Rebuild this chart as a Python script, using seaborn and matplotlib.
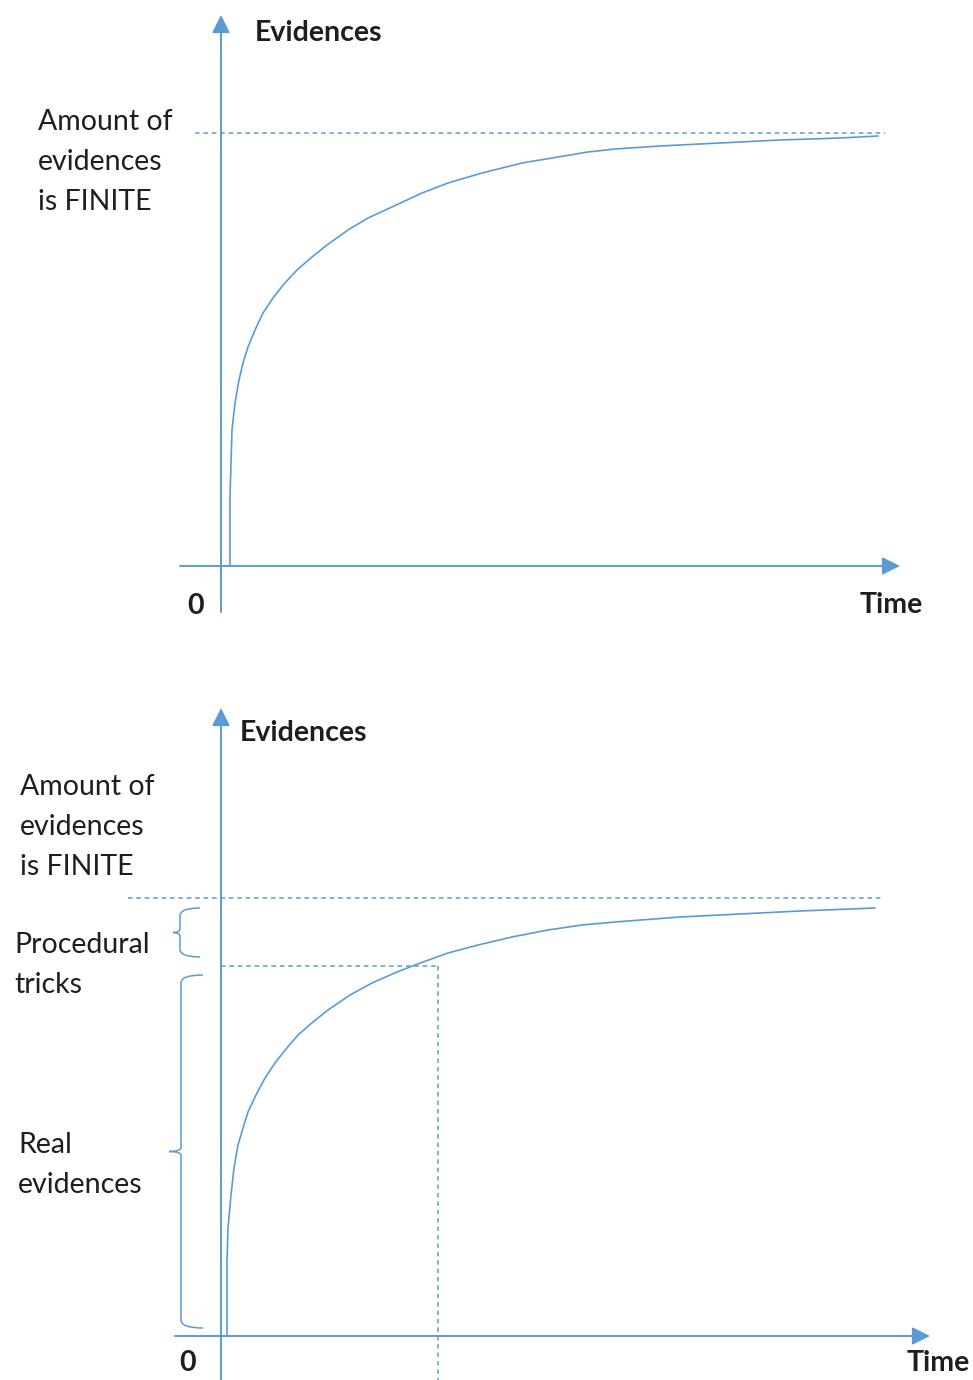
import matplotlib.pyplot as plt
import seaborn as sns
import pandas as pd
from matplotlib.path import Path
from matplotlib.patches import PathPatch

# Style
sns.set_style("white")
plt.rcParams['font.family'] = ['Lato', 'DejaVu Sans']

BLUE = '#5b9bd5'
TEXT = '#1e1e1e'
FS = 20.5

# Data (time / evidences; 1 unit = 1 px)
top_time = [9, 9, 10, 11, 14, 18, 22, 27, 34, 42, 52, 63, 76, 91, 106, 127, 147, 171,
            201, 227, 261, 301, 337, 367, 394, 439, 499, 559, 619, 657]
top_evidence = [1, 69, 103, 136, 163, 186, 203, 219, 236, 253, 268, 282, 296, 309, 321,
                336, 348, 359, 373, 383, 393, 403, 409, 414, 417, 420, 423, 426, 428, 430]
top_limit = 433

bottom_time = [6, 6, 7, 10, 13, 17, 22, 27, 35, 44, 54, 65, 77, 92, 107, 129, 151, 176,
               202, 227, 257, 291, 327, 361, 394, 459, 519, 579, 654]
bottom_evidence = [0, 74, 108, 141, 168, 191, 208, 224, 241, 258, 273, 287, 301, 314, 326,
                   341, 353, 364, 374, 383, 391, 399, 406, 411, 414, 419, 422, 425, 428]
bottom_limit = 438
real_level = 370
real_time = 217
tricks_span = (379, 428)
real_span = (8, 361)

fig = plt.figure(figsize=(9.73, 13.8), dpi=100)
ax1 = fig.add_axes([0, 1 - 640 / 1380, 1, 640 / 1380])
ax1.set_xlim(-221, 752)
ax1.set_ylim(-74, 566)
ax2 = fig.add_axes([0, 0, 1, 690 / 1380])
ax2.set_xlim(-221, 752)
ax2.set_ylim(-44, 646)


def arrow(ax, start, end):
    ax.annotate('', xy=end, xytext=start,
                arrowprops=dict(arrowstyle='-|>,head_length=0.6,head_width=0.3',
                                mutation_scale=18, lw=1.4, color=BLUE,
                                shrinkA=0, shrinkB=0))


def brace(ax, x_end, x_spine, x_tip, y0, y1, r=8):
    ym = (y0 + y1) / 2
    verts = [(x_end, y1), (x_spine, y1), (x_spine, y1 - r),
             (x_spine, ym + 4), (x_spine, ym), (x_tip, ym),
             (x_spine, ym), (x_spine, ym - 4),
             (x_spine, y0 + r), (x_spine, y0), (x_end, y0)]
    codes = [Path.MOVETO, Path.CURVE3, Path.CURVE3,
             Path.LINETO, Path.CURVE3, Path.CURVE3,
             Path.CURVE3, Path.CURVE3,
             Path.LINETO, Path.CURVE3, Path.CURVE3]
    ax.add_patch(PathPatch(Path(verts, codes), fill=False, edgecolor=BLUE, lw=1.1))


# 1. TOP PANEL
df_top = pd.DataFrame({'time': top_time, 'evidence': top_evidence})
sns.lineplot(data=df_top, x='time', y='evidence', sort=False, estimator=None,
             color=BLUE, lw=1.2, ax=ax1)
ax1.plot([-26, 664], [top_limit, top_limit], color=BLUE, lw=1.1, ls=(0, (3, 2.5)))
arrow(ax1, (0, -46), (0, 551))
arrow(ax1, (-41, 0), (679, 0))

ax1.text(34, 533, 'Evidences', fontsize=FS, fontweight='bold', color=TEXT, va='center')
for label, y in zip(['Amount of', 'evidences', 'is FINITE'], [122, 162, 202]):
    ax1.text(-183, 566 - y, label, fontsize=FS, color=TEXT, va='center')
ax1.text(-25, -40, '0', fontsize=FS, fontweight='bold', color=TEXT, ha='center', va='center')
ax1.text(639, -39, 'Time', fontsize=FS, fontweight='bold', color=TEXT, va='center')

# 2. BOTTOM PANEL
df_bot = pd.DataFrame({'time': bottom_time, 'evidence': bottom_evidence})
sns.lineplot(data=df_bot, x='time', y='evidence', sort=False, estimator=None,
             color=BLUE, lw=1.2, ax=ax2)
ax2.plot([-93, 662], [bottom_limit, bottom_limit], color=BLUE, lw=1.1, ls=(0, (3, 2.5)))
ax2.plot([0, real_time], [real_level, real_level], color=BLUE, lw=1.1, ls=(0, (3, 2.5)))
ax2.plot([real_time, real_time], [real_level, -44], color=BLUE, lw=1.1, ls=(0, (3, 2.5)))
arrow(ax2, (0, -44), (0, 628))
arrow(ax2, (-46, 0), (709, 0))
brace(ax2, -21, -41, -48, tricks_span[0], tricks_span[1])
brace(ax2, -18, -40, -52, real_span[0], real_span[1])

ax2.text(19, 603, 'Evidences', fontsize=FS, fontweight='bold', color=TEXT, va='center')
for label, y in zip(['Amount of', 'evidences', 'is FINITE'], [787, 827, 867]):
    ax2.text(-201, 1336 - y, label, fontsize=FS, color=TEXT, va='center')
for label, y in zip(['Procedural', 'tricks'], [945, 985]):
    ax2.text(-207, 1336 - y, label, fontsize=FS, color=TEXT, va='center')
for label, y in zip(['Real', 'evidences'], [1145, 1185]):
    ax2.text(-203, 1336 - y, label, fontsize=FS, color=TEXT, va='center')
ax2.text(-33, -27, '0', fontsize=FS, fontweight='bold', color=TEXT, ha='center', va='center')
ax2.text(686, -27, 'Time', fontsize=FS, fontweight='bold', color=TEXT, va='center')

for ax in (ax1, ax2):
    ax.axis('off')
    ax.set_xlabel('')
    ax.set_ylabel('')

plt.savefig('out.png', dpi=100)
plt.close()
